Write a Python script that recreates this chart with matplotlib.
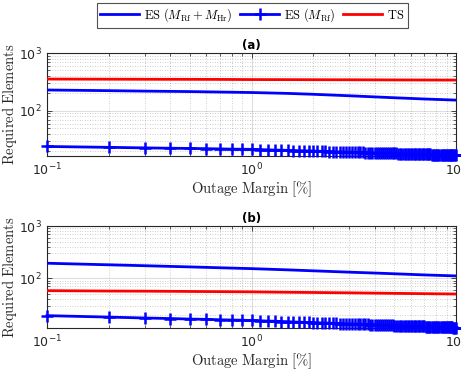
import numpy as np
import matplotlib
matplotlib.use("Agg")
import matplotlib.pyplot as plt
from matplotlib.ticker import LogLocator, NullFormatter

# Outage margin sweep in percent (0.1 % steps)
margin = np.round(np.arange(1, 101) * 0.1, 1)

# Sampled margins for the smooth curves
margin_s = [0.1, 0.2, 0.3, 0.5, 0.7, 1, 1.5, 2, 3, 4, 5, 7, 10]

# Scenario (a)
es_rf_hr_a = [229, 223, 219, 215, 211, 207, 200, 193, 182, 174, 168, 160, 153]
ts_a = [354, 352, 351, 350, 349, 347, 346, 345, 344, 343, 342, 341, 340]
es_rf_a = [
    24.1, 23.3, 22.8, 22.5, 22.3, 22.1, 21.9, 21.7, 21.6, 21.5,
    21.3, 21.1, 20.9, 20.8, 20.7, 20.5, 20.4, 20.3, 20.2, 20.1,
    20.0, 19.9, 19.8, 19.7, 19.6, 19.5, 19.5, 19.4, 19.3, 19.3,
    19.2, 19.1, 19.1, 19.0, 19.0, 18.9, 18.9, 18.8, 18.8, 18.7,
    18.7, 18.6, 18.6, 18.5, 18.5, 18.5, 18.4, 18.4, 18.3, 18.3,
    18.3, 18.2, 18.2, 18.2, 18.1, 18.1, 18.1, 18.0, 18.0, 18.0,
    17.9, 17.9, 17.9, 17.8, 17.8, 17.8, 17.8, 17.7, 17.7, 17.7,
    17.7, 17.6, 17.6, 17.6, 17.6, 17.5, 17.5, 17.5, 17.5, 17.5,
    17.4, 17.4, 17.4, 17.4, 17.4, 17.3, 17.3, 17.3, 17.3, 17.3,
    17.2, 17.2, 17.2, 17.2, 17.2, 17.1, 17.1, 17.1, 17.1, 17.1,
]

# Scenario (b)
es_rf_hr_b = [194, 181, 174, 165, 159, 153, 145, 139, 131, 126, 122, 116, 111]
ts_b = [58, 57, 56.7, 56, 55.5, 55, 54, 53.5, 52.7, 52, 51.5, 50.8, 50]
es_rf_b = [
    19.3, 18.1, 17.4, 17.0, 16.6, 16.4, 16.1, 15.9, 15.8, 15.6,
    15.4, 15.2, 15.1, 14.9, 14.8, 14.6, 14.5, 14.4, 14.3, 14.2,
    14.1, 14.0, 13.9, 13.9, 13.8, 13.7, 13.6, 13.6, 13.5, 13.4,
    13.4, 13.3, 13.3, 13.2, 13.2, 13.1, 13.1, 13.0, 13.0, 12.9,
    12.9, 12.8, 12.8, 12.8, 12.7, 12.7, 12.6, 12.6, 12.6, 12.5,
    12.5, 12.5, 12.4, 12.4, 12.4, 12.3, 12.3, 12.3, 12.3, 12.2,
    12.2, 12.2, 12.1, 12.1, 12.1, 12.1, 12.0, 12.0, 12.0, 12.0,
    11.9, 11.9, 11.9, 11.9, 11.9, 11.8, 11.8, 11.8, 11.8, 11.8,
    11.7, 11.7, 11.7, 11.7, 11.7, 11.6, 11.6, 11.6, 11.6, 11.6,
    11.6, 11.5, 11.5, 11.5, 11.5, 11.5, 11.4, 11.4, 11.4, 11.4,
]

panels = [
    ("(a)", es_rf_hr_a, es_rf_a, ts_a, 16.5),
    ("(b)", es_rf_hr_b, es_rf_b, ts_b, 11.2),
]

plt.rcParams["font.family"] = "DejaVu Sans"
plt.rcParams["mathtext.fontset"] = "dejavusans"

fig = plt.figure(figsize=(4.61, 3.73), dpi=100)
ax_rects = [
    [47 / 461, 1 - 156 / 373, 409 / 461, 103 / 373],
    [47 / 461, 1 - 328 / 373, 409 / 461, 102 / 373],
]

blue = (0, 0, 1)
red = (1, 0, 0)
dark = (0.15, 0.15, 0.15)
handles = None

for rect, (title, hr, rf, ts, ymin) in zip(ax_rects, panels):
    ax = fig.add_axes(rect)
    l1, = ax.plot(margin_s, hr, color=blue, lw=2.0, zorder=3)
    l2, = ax.plot(margin, rf, color=blue, lw=2.0, marker="+", ms=8,
                  mew=1.8, zorder=4, clip_on=False)
    l3, = ax.plot(margin_s, ts, color=red, lw=2.0, zorder=3)
    handles = [l1, l2, l3]

    ax.set_xscale("log")
    ax.set_yscale("log")
    ax.set_xlim(0.1, 10)
    ax.set_ylim(ymin, 1000)

    ax.xaxis.set_major_locator(LogLocator(base=10, numticks=10))
    ax.xaxis.set_minor_locator(LogLocator(base=10, subs=np.arange(2, 10), numticks=10))
    ax.yaxis.set_major_locator(LogLocator(base=10, numticks=10))
    ax.yaxis.set_minor_locator(LogLocator(base=10, subs=np.arange(2, 10), numticks=10))
    ax.xaxis.set_minor_formatter(NullFormatter())
    ax.yaxis.set_minor_formatter(NullFormatter())

    ax.grid(True, which="major", color=dark, alpha=0.15, lw=0.8)
    ax.grid(True, which="minor", color=dark, alpha=0.3,
            lw=0.6, linestyle=(0, (1, 2)))
    ax.set_axisbelow(True)

    ax.tick_params(which="both", direction="in", top=True, right=True,
                   color=dark, labelsize=9, labelcolor=dark)
    ax.tick_params(which="major", length=3.5, width=0.6, pad=4)
    ax.tick_params(which="minor", length=2, width=0.5)
    for s in ax.spines.values():
        s.set_color(dark)
        s.set_linewidth(0.8)

    ax.set_title(title, fontsize=8.5, fontweight="bold", pad=3)
    ax.set_xlabel(r"$\mathrm{Outage\ Margin\ [\%]}$", fontsize=10.5,
                  math_fontfamily="cm", color=dark, labelpad=1)
    ax.set_ylabel(r"$\mathrm{Required\ Elements}$", fontsize=10.5,
                  math_fontfamily="cm", color=dark)
    ax.yaxis.set_label_coords(-0.068, 0.5)

labels = [r"$\mathrm{ES}\ (M_{\mathrm{Rf}} + M_{\mathrm{Hr}})$",
          r"$\mathrm{ES}\ (M_{\mathrm{Rf}})$",
          r"$\mathrm{TS}$"]
leg = fig.legend(handles, labels, loc="upper center", bbox_to_anchor=(0.547, 0.993),
                 ncol=3, frameon=True, fancybox=False, edgecolor=dark,
                 fontsize=9, handlelength=3.1, handletextpad=0.4,
                 columnspacing=0.6, borderpad=0.3, borderaxespad=0)
leg.get_frame().set_linewidth(0.8)
for t in leg.get_texts():
    t.set_math_fontfamily("cm")

fig.savefig("out.png", dpi=100)
